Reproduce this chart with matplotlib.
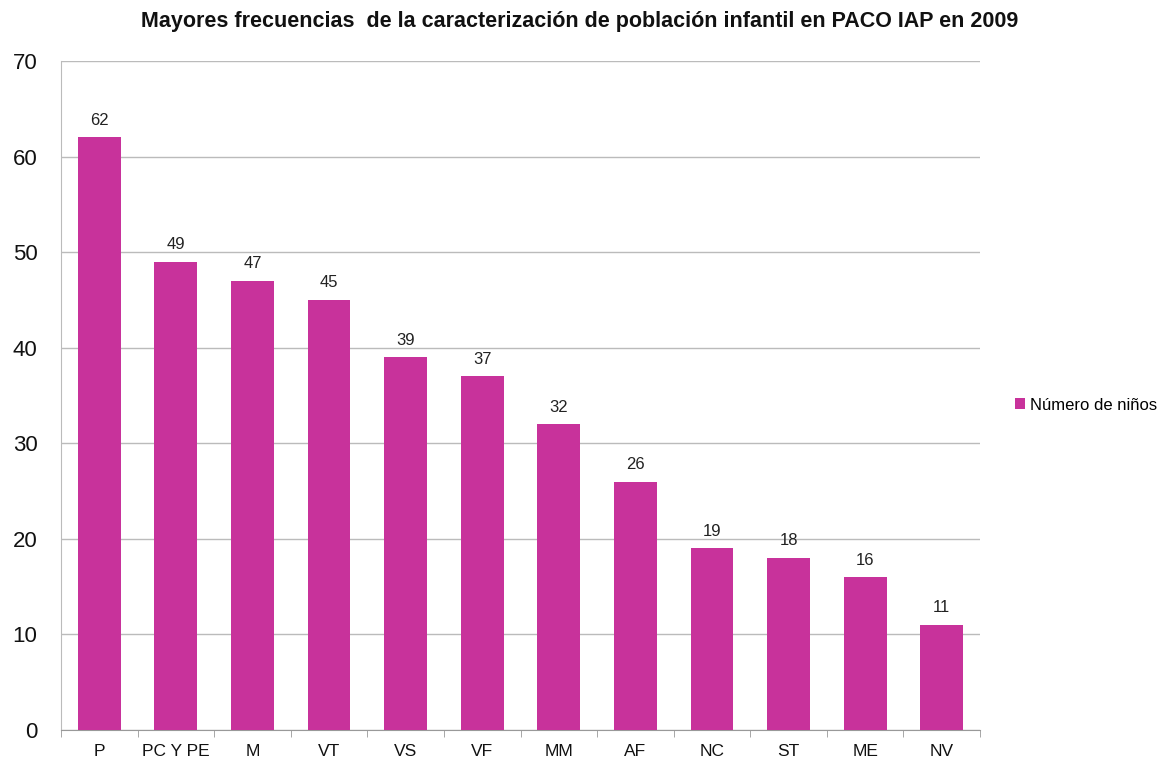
import matplotlib
matplotlib.use("Agg")
import matplotlib.pyplot as plt
import numpy as np

plt.rcParams['font.family'] = ['Liberation Sans', 'DejaVu Sans']

categories = ["P", "PC Y PE", "M", "VT", "VS", "VF", "MM", "AF", "NC", "ST", "ME", "NV"]
values = [62, 49, 47, 45, 39, 37, 32, 26, 19, 18, 16, 11]
series_name = "Número de niños"
title = "Mayores frecuencias  de la caracterización de población infantil en PACO IAP en 2009"

fig = plt.figure(figsize=(11.64, 7.59), dpi=100)
ax = fig.add_axes([61/1164, 1-730/759, (980-61)/1164, (730-61)/759])

x = np.arange(len(categories))
bars = ax.bar(x, values, width=0.56, color="#C8329B", label=series_name, zorder=3)
for xi, v in zip(x, values):
    ax.text(xi, v + 1.0, str(v), ha="center", va="bottom", fontsize=12, color="#222222")

ax.set_xlim(-0.5, len(categories) - 0.5)
ax.set_ylim(0, 70)
ax.set_yticks(range(0, 71, 10))
ax.tick_params(axis="y", labelsize=16, length=0, pad=17, colors="#111111")
ax.set_xticks(x)
ax.set_xticklabels(categories)
ax.tick_params(axis="x", which="major", length=0, labelsize=12.5, pad=10, colors="#111111")
ax.set_xticks(np.arange(-0.5, len(categories), 1), minor=True)
ax.tick_params(axis="x", which="minor", length=5, color="#999999", direction="out")
ax.yaxis.grid(True, color="#BBBBBB", linewidth=1, zorder=0)
for s in ["top", "right"]:
    ax.spines[s].set_visible(False)
ax.spines["left"].set_color("#BBBBBB")
ax.spines["bottom"].set_color("#999999")

fig.text(580/1164, 1-22/759, title, ha="center", va="center", fontsize=15.5, fontweight="bold", color="#111111")

leg = fig.legend(handles=[bars], labels=[series_name], loc="center left",
                 bbox_to_anchor=(1000/1164, 1-405/759), frameon=False, fontsize=12,
                 handlelength=0.6, handleheight=0.6, handletextpad=0.3)

fig.savefig("out.png", dpi=100, facecolor="white")
